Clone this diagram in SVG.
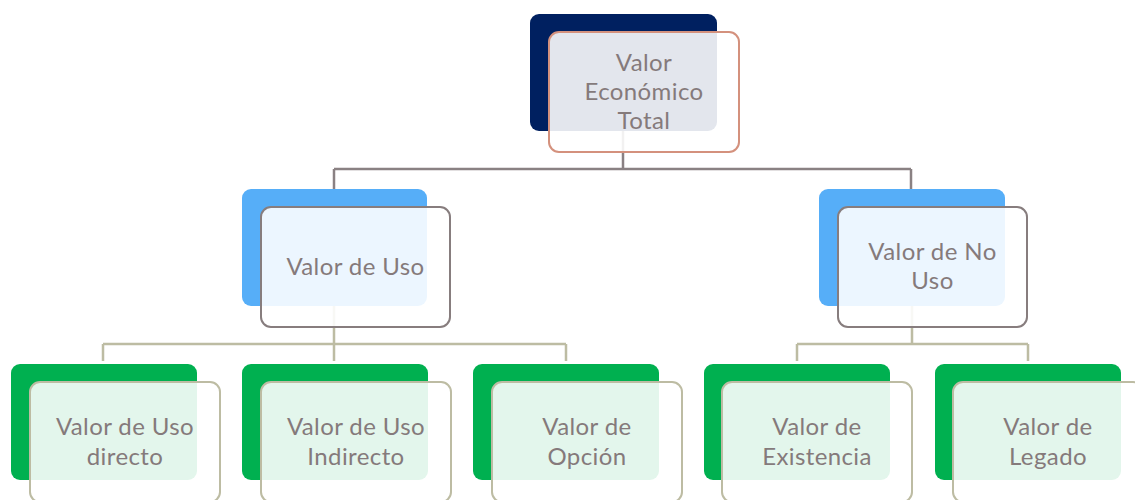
<svg xmlns="http://www.w3.org/2000/svg" width="1135" height="500" viewBox="0 0 1135 500">
<style>
.bg{stroke:none}
.top{fill:#002060}
.mid{fill:#56AEF8}
.leaf{fill:#00B050}
.ov{fill:#FFFFFF;fill-opacity:0.89;stroke-width:2}
.ovtop{stroke:#D4917D}
.ovmid{stroke:#877D7E}
.ovleaf{stroke:#BDBCA3}
.lbl{font-family:Lato,"Open Sans","Liberation Sans",sans-serif;font-size:24px;letter-spacing:0.4px;fill:#857A7B;text-anchor:middle}
.c1{fill:none;stroke:#8A8183;stroke-width:2.5}
.c2{fill:none;stroke:#BDBCA3;stroke-width:2.5}
</style>
<rect width="1135" height="500" fill="#FFFFFF"/>
<g id="connectors">
<path class="c1" d="M623 131 V169 M334 169 H911 M334 169 V189 M911 169 V189"/>
<path class="c2" d="M334 306 V344 M103 344 H566 M103 344 V361 M334 344 V361 M566 344 V361"/>
<path class="c2" d="M912 306 V344 M797 344 H1028 M797 344 V361 M1028 344 V361"/>
</g>
<g id="n-total">
<rect class="bg top" x="530" y="14" width="187" height="117" rx="9"/>
<rect class="ov ovtop" x="549" y="32" width="190" height="120" rx="10"/>
<text class="lbl"><tspan x="644" y="71">Valor</tspan><tspan x="644" y="100">Económico</tspan><tspan x="644" y="129">Total</tspan></text>
</g>
<g id="n-uso">
<rect class="bg mid" x="242" y="189" width="185" height="117" rx="9"/>
<rect class="ov ovmid" x="261" y="207" width="189" height="120" rx="10"/>
<text class="lbl"><tspan x="355.5" y="275">Valor de Uso</tspan></text>
</g>
<g id="n-nouso">
<rect class="bg mid" x="819" y="189" width="186" height="117" rx="9"/>
<rect class="ov ovmid" x="838" y="207" width="189" height="120" rx="10"/>
<text class="lbl"><tspan x="932.5" y="260">Valor de No</tspan><tspan x="932.5" y="289">Uso</tspan></text>
</g>
<g id="n-directo">
<rect class="bg leaf" x="11" y="364" width="186" height="116" rx="9"/>
<rect class="ov ovleaf" x="30" y="382" width="190" height="120" rx="10"/>
<text class="lbl"><tspan x="125" y="435">Valor de Uso</tspan><tspan x="125" y="465">directo</tspan></text>
</g>
<g id="n-indirecto">
<rect class="bg leaf" x="242" y="364" width="186" height="116" rx="9"/>
<rect class="ov ovleaf" x="261" y="382" width="190" height="120" rx="10"/>
<text class="lbl"><tspan x="356" y="435">Valor de Uso</tspan><tspan x="356" y="465">Indirecto</tspan></text>
</g>
<g id="n-opcion">
<rect class="bg leaf" x="473" y="364" width="186" height="116" rx="9"/>
<rect class="ov ovleaf" x="492" y="382" width="190" height="120" rx="10"/>
<text class="lbl"><tspan x="587" y="435">Valor de</tspan><tspan x="587" y="465">Opción</tspan></text>
</g>
<g id="n-existencia">
<rect class="bg leaf" x="704" y="364" width="186" height="116" rx="9"/>
<rect class="ov ovleaf" x="722" y="382" width="190" height="120" rx="10"/>
<text class="lbl"><tspan x="817" y="435">Valor de</tspan><tspan x="817" y="465">Existencia</tspan></text>
</g>
<g id="n-legado">
<rect class="bg leaf" x="935" y="364" width="186" height="116" rx="9"/>
<rect class="ov ovleaf" x="953" y="382" width="190" height="120" rx="10"/>
<text class="lbl"><tspan x="1048" y="435">Valor de</tspan><tspan x="1048" y="465">Legado</tspan></text>
</g>
</svg>
